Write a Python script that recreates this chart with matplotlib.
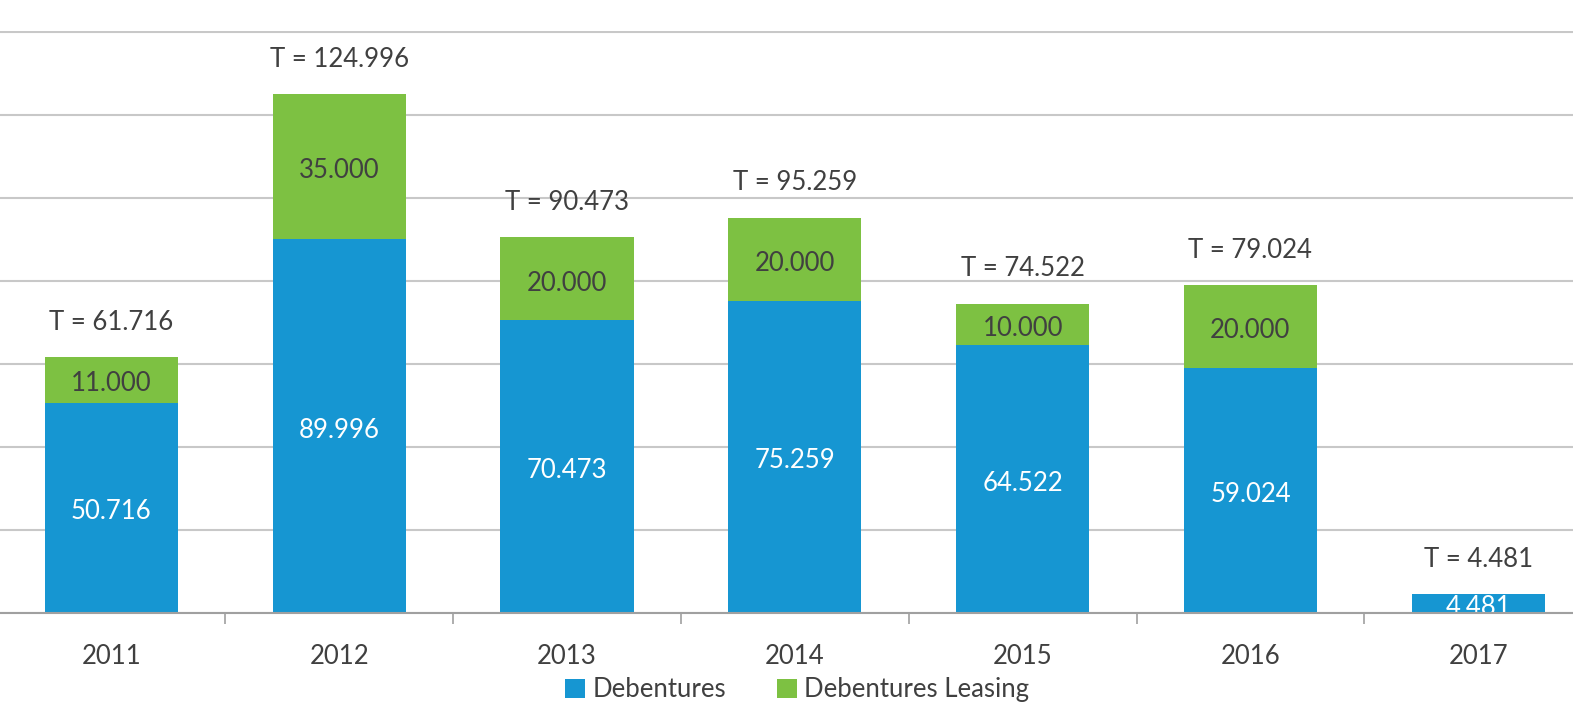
import matplotlib
matplotlib.use("Agg")
import matplotlib.pyplot as plt
import numpy as np

years = ["2011", "2012", "2013", "2014", "2015", "2016", "2017"]
debentures = [50.716, 89.996, 70.473, 75.259, 64.522, 59.024, 4.481]
leasing = [11.000, 35.000, 20.000, 20.000, 10.000, 20.000, 0.0]
totals = [61.716, 124.996, 90.473, 95.259, 74.522, 79.024, 4.481]

blue = "#1696d2"
green = "#7dc142"
txt = "#404040"

plt.rcParams["font.family"] = ["Lato", "DejaVu Sans"]

fig = plt.figure(figsize=(15.73, 7.12), dpi=100)
ax = fig.add_axes([0, 0.139, 1.0, 0.8174])

x = np.arange(len(years))
w = 0.584
ax.bar(x, debentures, w, color=blue, label="Debentures", zorder=3)
ax.bar(x, leasing, w, bottom=debentures, color=green, label="Debentures Leasing", zorder=3)


def fmt(v):
    return "{:.3f}".format(v)


fs = 18.5
for i in range(len(years)):
    ax.annotate(fmt(debentures[i]), (x[i], debentures[i] / 2), xytext=(0, -3),
                textcoords="offset points", ha="center", va="center",
                color="white", fontsize=fs, zorder=4, annotation_clip=False,
                clip_on=True)
    if leasing[i] > 0:
        ax.annotate(fmt(leasing[i]), (x[i], debentures[i] + leasing[i] / 2),
                    xytext=(0, -3), textcoords="offset points", ha="center",
                    va="center", color=txt, fontsize=fs, zorder=4)
    ax.annotate("T = " + fmt(totals[i]), (x[i], totals[i]), xytext=(0, 25),
                textcoords="offset points", ha="center", va="center",
                color=txt, fontsize=fs)

ax.set_xlim(-0.489, 6.416)
ax.set_ylim(0, 140.2)
ax.set_yticks(np.arange(0, 141, 20))
ax.set_yticklabels([])
ax.tick_params(axis="y", length=0)
ax.yaxis.grid(True, color="#c8c8c8", lw=1.5, zorder=0)

ax.set_xticks(x)
ax.set_xticklabels(years, fontsize=fs, color=txt)
ax.set_xticks(x[:-1] + 0.5, minor=True)
ax.tick_params(axis="x", which="major", length=0, pad=22)
ax.tick_params(axis="x", which="minor", length=8, width=1.2, color="#a0a0a0")

for s in ["top", "right", "left"]:
    ax.spines[s].set_visible(False)
ax.spines["bottom"].set_color("#a0a0a0")
ax.spines["bottom"].set_linewidth(1.5)
ax.spines["bottom"].set_zorder(5)

fig.legend(loc="center", bbox_to_anchor=(0.507, 0.031), ncol=2, frameon=False,
           fontsize=fs, handlelength=0.75, handleheight=0.75, handletextpad=0.3,
           columnspacing=2.0, labelcolor=txt)

fig.savefig("out.png", dpi=100)
